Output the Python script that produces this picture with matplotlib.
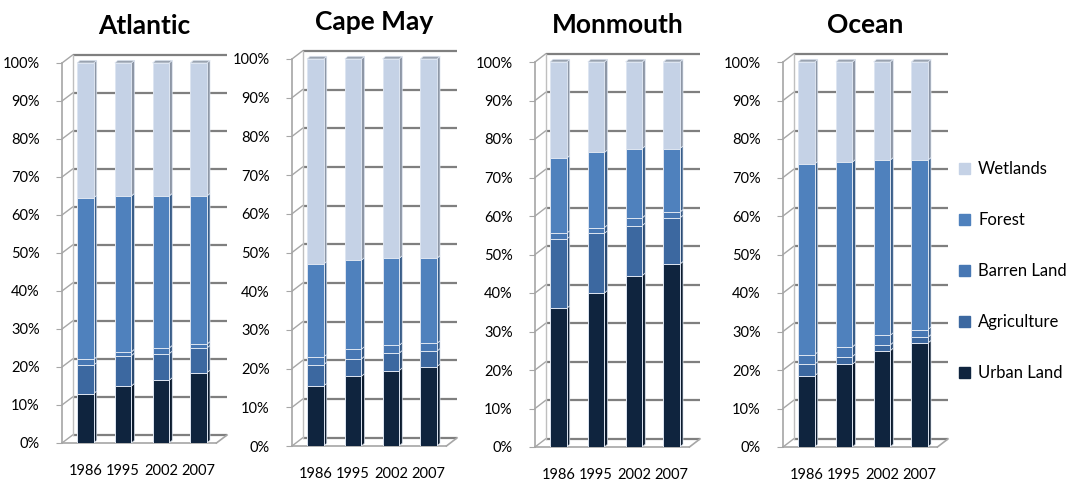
import numpy as np
import matplotlib.pyplot as plt
from matplotlib.patches import Polygon
from matplotlib.colors import to_rgb

plt.rcParams['font.family'] = ['Lato', 'DejaVu Sans']

years = ['1986', '1995', '2002', '2007']
counties = ['Atlantic', 'Cape May', 'Monmouth', 'Ocean']
categories = ['Urban Land', 'Agriculture', 'Barren Land', 'Forest', 'Wetlands']
colors = ['#0F243E', '#3C68A0', '#4777B3', '#4F81BD', '#C5D2E6']

# percent of county area, per year
urban = {'Atlantic': [13, 15, 16.5, 18.5], 'Cape May': [15.5, 18, 19.5, 20.5],
         'Monmouth': [36, 40, 44.5, 47.5], 'Ocean': [18.5, 21.5, 25, 27]}
agriculture = {'Atlantic': [7.5, 8, 7, 6.5], 'Cape May': [5.5, 4.5, 4.5, 4],
               'Monmouth': [18, 15.5, 13, 12], 'Ocean': [3, 2, 1.5, 1.5]}
barren = {'Atlantic': [1.5, 1, 1.5, 1], 'Cape May': [2, 2.5, 2, 2],
          'Monmouth': [1.5, 1.5, 2, 1.5], 'Ocean': [2.5, 2.5, 2.5, 2]}
forest = {'Atlantic': [42.5, 41, 40, 39], 'Cape May': [24, 23, 22.5, 22],
          'Monmouth': [19.5, 19.5, 18, 16.5], 'Ocean': [49.5, 48, 45.5, 44]}
wetlands = {'Atlantic': [35.5, 35, 35, 35], 'Cape May': [53, 52, 51.5, 51.5],
            'Monmouth': [25, 23.5, 22.5, 22.5], 'Ocean': [26.5, 26, 25.5, 25.5]}
series = [urban, agriculture, barren, forest, wetlands]

# panel placement in pixels: front axis x, 0% y, 100% y
panel_px = {'Atlantic': (62, 443, 63), 'Cape May': (292, 446, 59),
            'Monmouth': (535, 447, 62), 'Ocean': (783, 447, 62)}

W, H = 1074, 480
fig = plt.figure(figsize=(W / 100, H / 100), dpi=100)

x_left, x_right = -0.62, 3.75
ytop = 102.5
ox, oy = 0.28, 2.1       # back wall offset
bw = 0.44                # bar width
dx, dy = 0.08, 0.7       # bar side depth
grid_c = '#7F7F7F'


def shade(c, f):
    r, g, b = to_rgb(c)
    return (r * f, g * f, b * f)


for county in counties:
    L, B, T = panel_px[county]
    pxp = (B - T) / 100.0
    h_px = ytop * pxp
    w_px = 165
    ax = fig.add_axes([L / W, 1 - B / H, w_px / W, h_px / H])
    ax.set_xlim(x_left, x_right)
    ax.set_ylim(0, ytop)
    for s in ax.spines.values():
        s.set_visible(False)

    levels = np.arange(0, 101, 10)
    # back wall gridlines and side diagonals
    for lv in levels:
        ax.plot([x_left + ox, x_right], [lv + oy, lv + oy], color=grid_c, lw=1.6,
                zorder=0, clip_on=False, solid_capstyle='butt')
        ax.plot([x_left, x_left + ox], [lv, lv + oy], color='#A6A6A6', lw=1.0,
                zorder=0, clip_on=False)
    ax.plot([x_left + ox, x_left + ox], [oy, 100 + oy], color='#BFBFBF', lw=1.0, zorder=0)
    ax.plot([x_left, x_left], [0, 100], color='#A6A6A6', lw=1.2, zorder=0, clip_on=False)
    # floor
    ax.plot([x_left, x_right - ox], [0, 0], color='#A6A6A6', lw=1.2, zorder=0, clip_on=False)
    ax.plot([x_right - ox, x_right], [0, oy], color='#A6A6A6', lw=1.2, zorder=0, clip_on=False)

    x = np.arange(len(years))
    bottom = np.zeros(len(years))
    for cat, data, col in zip(categories, series, colors):
        vals = np.array(data[county], dtype=float)
        ax.bar(x, vals, bw, bottom=bottom, color=col, edgecolor='#DDE5F1',
               linewidth=0.7, zorder=3)
        for xi, b0, v in zip(x, bottom, vals):
            xr = xi + bw / 2
            side = Polygon([(xr, b0), (xr + dx, b0 + dy), (xr + dx, b0 + v + dy), (xr, b0 + v)],
                           closed=True, facecolor=shade(col, 0.72), edgecolor='#DDE5F1',
                           linewidth=0.5, zorder=2)
            ax.add_patch(side)
        bottom = bottom + vals
    for xi, tot in zip(x, bottom):
        xl, xr = xi - bw / 2, xi + bw / 2
        top = Polygon([(xl, tot), (xl + dx, tot + dy), (xr + dx, tot + dy), (xr, tot)],
                      closed=True, facecolor='#9AA3B0', edgecolor='#DDE5F1', linewidth=0.5,
                      zorder=4)
        ax.add_patch(top)

    ax.set_yticks(levels)
    ax.set_yticklabels([f'{v}%' for v in levels], fontsize=10.5)
    ax.tick_params(axis='y', length=4, color='#A6A6A6', pad=12)
    ax.set_xticks(x)
    ax.set_xticklabels(years, fontsize=10.5)
    ax.tick_params(axis='x', length=0, pad=15)
    ax.set_title(county, fontsize=19, fontweight='bold', pad=14)

handles = [plt.Rectangle((0, 0), 1, 1, color=c) for c in colors][::-1]
fig.legend(handles, categories[::-1], loc='center left', bbox_to_anchor=(944 / W, 1 - 271 / H),
           frameon=False, fontsize=12, handlelength=0.65, handleheight=0.65,
           handletextpad=0.5, labelspacing=2.1)

fig.savefig('out.png', dpi=100)
